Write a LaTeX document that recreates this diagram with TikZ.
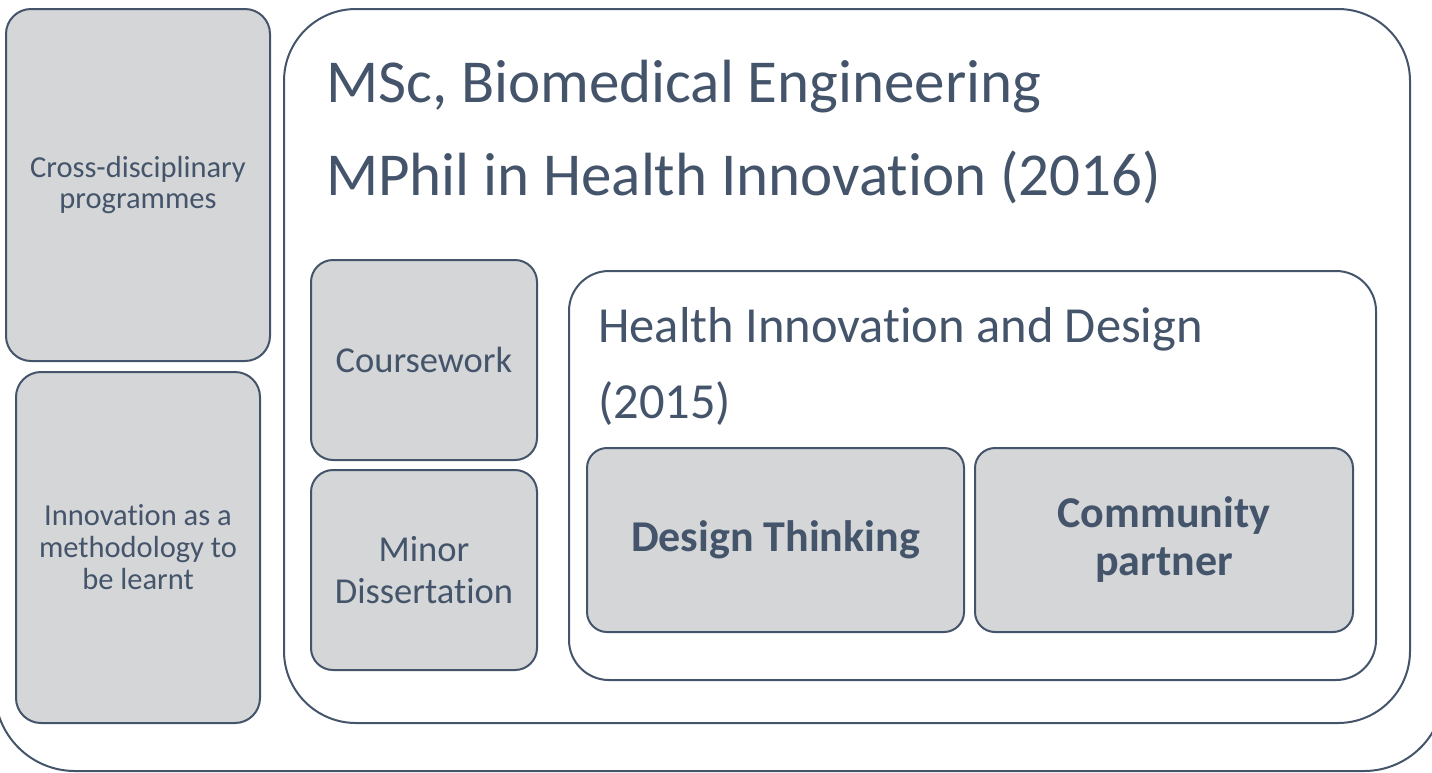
\documentclass[tikz,border=0pt]{standalone}
\usepackage{fontspec}
\setmainfont{Carlito}[Ligatures={NoCommon}]
\definecolor{txt}{HTML}{44546A}
\definecolor{gfill}{HTML}{D5D6D8}
\tikzset{
  gbox/.style={draw=txt, line width=2pt, fill=gfill, rounded corners=#1, inner sep=0pt, align=center, text=txt},
  wbox/.style={draw=txt, line width=2pt, fill=white, rounded corners=#1, inner sep=0pt},
  title/.style={anchor=base west, inner sep=0pt, text=txt},
}
\begin{document}
\begin{tikzpicture}[x=1pt,y=-1pt]
\useasboundingbox (0,0) rectangle (1432,772);
\begin{scope}
\clip (0,0) rectangle (1432,772);
\draw[txt, line width=2pt, rounded corners=80pt] (-5,-120) rectangle (1444,771);
\end{scope}
% main box
\node[wbox=72pt, minimum width=1126pt, minimum height=714pt] (msc) at (847,366) {};
\node[title, font=\fontsize{61}{72}\selectfont] (t1) at (326,102) {MSc, Biomedical Engineering};
\node[title, font=\fontsize{61}{72}\selectfont] (t2) at (326,195) {MPhil in Health Innovation (2016)};
% left boxes
\node[gbox=25pt, minimum width=264pt, minimum height=352pt, font=\fontsize{30.5}{31}\selectfont] (cross) at (138,185) {Cross-disciplinary\\programmes};
\node[gbox=25pt, minimum width=244pt, minimum height=351pt, font=\fontsize{30.5}{32}\selectfont] (innov) at (138,547.5) {Innovation as a\\methodology to\\be learnt};
% coursework boxes
\node[gbox=22pt, minimum width=226pt, minimum height=200pt, font=\fontsize{36.5}{42}\selectfont] (course) at (424,360) {Coursework};
\node[gbox=22pt, minimum width=226pt, minimum height=200pt, font=\fontsize{36.5}{42}\selectfont] (minor) at (424,570) {Minor\\Dissertation};
% health innovation box
\node[wbox=40pt, minimum width=807pt, minimum height=409pt] (hid) at (972.5,475.5) {};
\node[title, font=\fontsize{50.5}{60}\selectfont] (t3) at (598,342) {Health Innovation and Design};
\node[title, font=\fontsize{50.5}{60}\selectfont] (t4) at (598,418) {(2015)};
\node[gbox=20pt, minimum width=377pt, minimum height=184pt, font=\bfseries\fontsize{44}{48}\selectfont] (design) at (775.5,540) {Design Thinking};
\node[gbox=20pt, minimum width=378pt, minimum height=184pt, font=\bfseries\fontsize{44}{48}\selectfont] (comm) at (1164,540) {Community\\partner};
\end{tikzpicture}
\end{document}
